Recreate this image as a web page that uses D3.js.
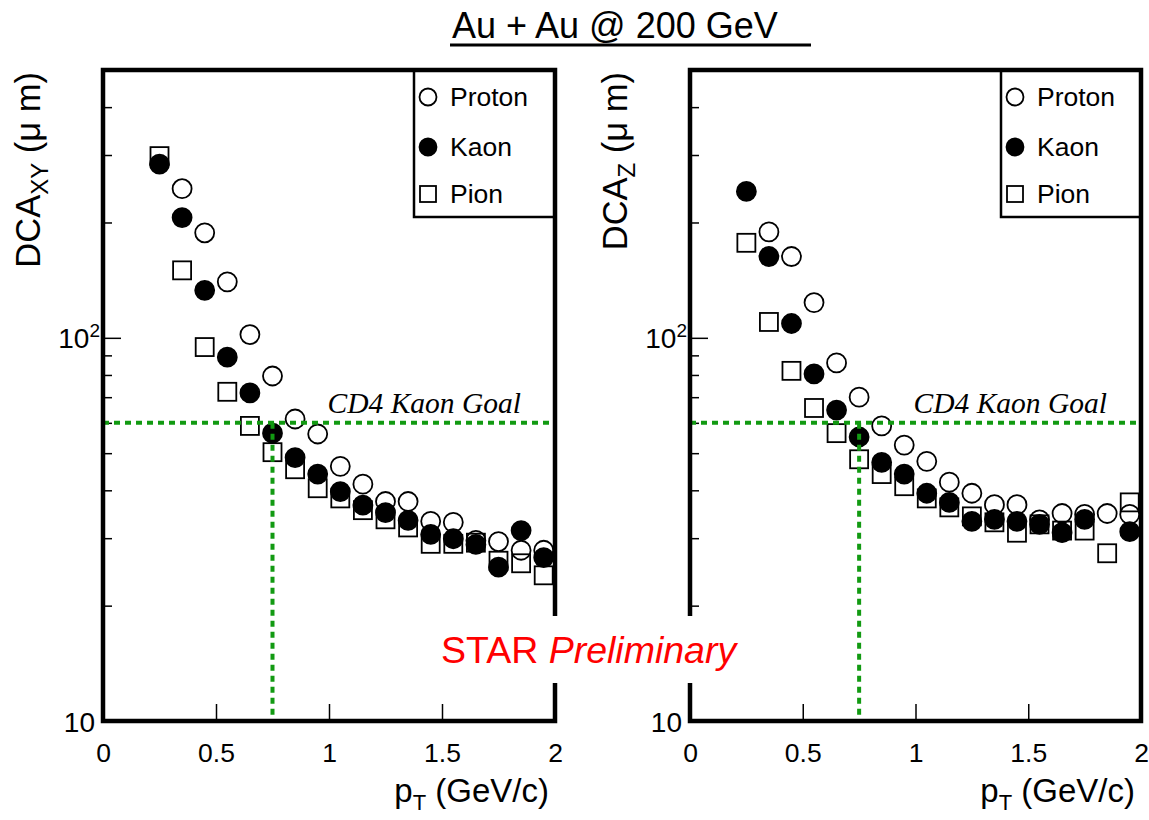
<!DOCTYPE html>
<html><head><meta charset="utf-8">
<script src="https://cdn.jsdelivr.net/npm/d3@7"></script>
<style>body{margin:0;background:#fff} svg{display:block}</style>
</head><body><svg id="c" width="1149" height="820"></svg>
<script>
// ---------- data ----------
const pT = [0.25,0.35,0.45,0.55,0.65,0.75,0.85,0.95,1.05,1.15,1.25,1.35,1.45,1.55,1.65,1.75,1.85,1.95];
const xyProton = [null,245,188,140,102,79.5,61.4,56.1,46.2,41.5,37.4,37.4,33.2,33.0,29.6,29.4,27.9,27.9];
const xyKaon   = [284,206,133,89,71.8,56.4,48.7,44.1,39.7,36.6,35.0,33.4,30.7,29.9,28.9,25.2,31.4,26.7];
const xyPion   = [298,150,94.6,72.3,58.9,50.3,45.4,40.5,38.1,35.5,33.6,32.0,29.0,29.0,29.2,26.2,25.8,24.0];
const zProton  = [null,189,163,123.6,86,70,58.9,52.5,47.6,42.0,39.3,36.7,36.7,33.5,34.8,34.6,34.8,34.6];
const zKaon    = [241,163,109,80.5,64.8,55.1,47.3,44.1,39.3,37.2,33.2,33.6,33.2,32.6,31.0,33.6,null,31.2];
const zPion    = [177,110,82,65.6,56.4,48.2,44.1,41.0,38.1,36.1,34.2,33.0,31.0,32.6,31.4,31.4,27.4,37.2];
const xTicks = [0,0.5,1,1.5,2];
const yMinorTicks = [20,30,40,50,60,70,80,90,200,300,400,500];
const yMajorTicks = [10,100];
const xDomain = [0,2];
const yDomain = [10,500];
const kaonGoal = 60;
const goalPt = 0.75;
const legendNames = ["Proton","Kaon","Pion"];

// ---------- drawing ----------
const svg = d3.select("#c");
const FONT = "'Liberation Sans', Arial, sans-serif";
const Y0 = 721, Y1 = 70;
const GREEN = "#129a12";

const panels = [
  {x0:103, x1:555, sub:"XY", series:[xyProton, xyPion, xyKaon]},
  {x0:690, x1:1141, sub:"Z",  series:[zProton, zPion, zKaon]}
];

function marker(sel, kind, cx, cy, size) {
  if (kind === "Pion") {
    sel.append("rect").attr("x", cx - size).attr("y", cy - size)
      .attr("width", 2*size).attr("height", 2*size)
      .attr("fill", "none").attr("stroke", "#000").attr("stroke-width", 1.8);
  } else {
    sel.append("circle").attr("cx", cx).attr("cy", cy).attr("r", size)
      .attr("fill", kind === "Kaon" ? "#000" : "none")
      .attr("stroke", "#000").attr("stroke-width", 1.8);
  }
}

panels.forEach(p => {
  const x = d3.scaleLinear().domain(xDomain).range([p.x0, p.x1]);
  const y = d3.scaleLog().domain(yDomain).range([Y0, Y1]);
  const g = svg.append("g");

  // x axis
  const xa = g.append("g").attr("transform", `translate(0,${Y0})`)
    .call(d3.axisBottom(x).tickValues(xTicks).tickFormat(d => String(d))
      .tickSizeInner(-17).tickSizeOuter(0).tickPadding(22));
  xa.select(".domain").remove();
  xa.attr("font-family", FONT).attr("font-size", 26.5);
  xa.selectAll("line").attr("stroke-width", 1.5);

  // y axis minor
  const ym = g.append("g").attr("transform", `translate(${p.x0},0)`)
    .call(d3.axisLeft(y).tickValues(yMinorTicks).tickFormat("").tickSizeInner(-9).tickSizeOuter(0));
  ym.select(".domain").remove();
  ym.selectAll("line").attr("stroke-width", 1.5);
  // y axis major
  const yM = g.append("g").attr("transform", `translate(${p.x0},0)`)
    .call(d3.axisLeft(y).tickValues(yMajorTicks).tickFormat("").tickSizeInner(-18).tickSizeOuter(0).tickPadding(8));
  yM.select(".domain").remove();
  yM.selectAll("line").attr("stroke-width", 1.5);
  yM.attr("font-family", FONT).attr("font-size", 28).attr("fill", "#000");
  yM.selectAll(".tick text").each(function(d) {
    const e = Math.round(Math.log10(d));
    const t = d3.select(this).attr("dy", "0.36em").attr("fill", "#000");
    t.append("tspan").text("10");
    if (e !== 1) {
      t.attr("x", -3);
      t.append("tspan").attr("font-size", 19).attr("dy", "-0.6em").text(String(e));
    }
  });

  // y title
  const yt = g.append("text").attr("transform", `translate(${p.x0 - 63},${Y1 + 2}) rotate(-90)`)
    .attr("text-anchor", "end").attr("font-family", FONT).attr("font-size", 34.5).attr("fill", "#000");
  yt.append("tspan").text("DCA");
  yt.append("tspan").attr("font-size", 24).attr("dy", 8).text(p.sub);
  yt.append("tspan").attr("dy", -8).text(" (\u03bc m)");

  // x title
  const xt = g.append("text").attr("x", p.x1 - 6).attr("y", 802)
    .attr("text-anchor", "end").attr("font-family", FONT).attr("font-size", 33).attr("fill", "#000");
  xt.append("tspan").text("p");
  xt.append("tspan").attr("font-size", 22).attr("dy", 8).text("T");
  xt.append("tspan").attr("dy", -8).text(" (GeV/c)");

  // data points: proton, pion, kaon (kaon on top)
  const kinds = ["Proton", "Pion", "Kaon"];
  p.series.forEach((vals, si) => {
    const sg = g.append("g");
    pT.forEach((pt, i) => {
      if (vals[i] == null) return;
      marker(sg, kinds[si], x(pt), y(vals[i]), kinds[si] === "Pion" ? 9 : 9.5);
    });
  });

  // goal lines
  g.append("line").attr("x1", p.x0).attr("x2", p.x1).attr("y1", y(kaonGoal)).attr("y2", y(kaonGoal))
    .attr("stroke", GREEN).attr("stroke-width", 4).attr("stroke-dasharray", "6,5");
  g.append("line").attr("x1", x(goalPt)).attr("x2", x(goalPt)).attr("y1", y(kaonGoal)).attr("y2", Y0)
    .attr("stroke", GREEN).attr("stroke-width", 4).attr("stroke-dasharray", "6,5");
  g.append("text").attr("x", p.x1 - 34).attr("y", y(kaonGoal) - 10).attr("text-anchor", "end")
    .attr("font-family", "'Liberation Serif', 'Times New Roman', serif").attr("font-style", "italic")
    .attr("font-size", 29.5).attr("fill", "#000").text("CD4 Kaon Goal");

  // legend
  const lx = p.x0 + 311, ly = Y1, lb = 217;
  g.append("rect").attr("x", lx).attr("y", ly).attr("width", p.x1 - lx).attr("height", lb - ly)
    .attr("fill", "#fff").attr("stroke", "#000").attr("stroke-width", 2.5);
  const legYs = [97, 147, 194];
  ["Proton", "Kaon", "Pion"].forEach((name, i) => {
    marker(g, name, lx + 14, legYs[i], name === "Pion" ? 8 : 8.5);
    g.append("text").attr("x", lx + 36).attr("y", legYs[i] + 9)
      .attr("font-family", FONT).attr("font-size", 26.5).attr("fill", "#000").text(legendNames[i]);
  });

  // frame
  g.append("rect").attr("x", p.x0).attr("y", Y1).attr("width", p.x1 - p.x0).attr("height", Y0 - Y1)
    .attr("fill", "none").attr("stroke", "#000").attr("stroke-width", 4.5);
});

// title
svg.append("text").attr("x", 452).attr("y", 38).attr("font-family", FONT).attr("font-size", 36)
  .attr("fill", "#000").text("Au + Au @ 200 GeV");
svg.append("line").attr("x1", 450).attr("x2", 811).attr("y1", 45).attr("y2", 45)
  .attr("stroke", "#000").attr("stroke-width", 3);

// STAR Preliminary
svg.append("rect").attr("x", 437).attr("y", 616).attr("width", 304).attr("height", 67).attr("fill", "#fff");
const st = svg.append("text").attr("x", 441).attr("y", 663).attr("font-family", FONT)
  .attr("font-size", 37.5).attr("fill", "#ff0000");
st.append("tspan").text("STAR ");
st.append("tspan").attr("font-style", "italic").text("Preliminary");
</script>
</body></html>
